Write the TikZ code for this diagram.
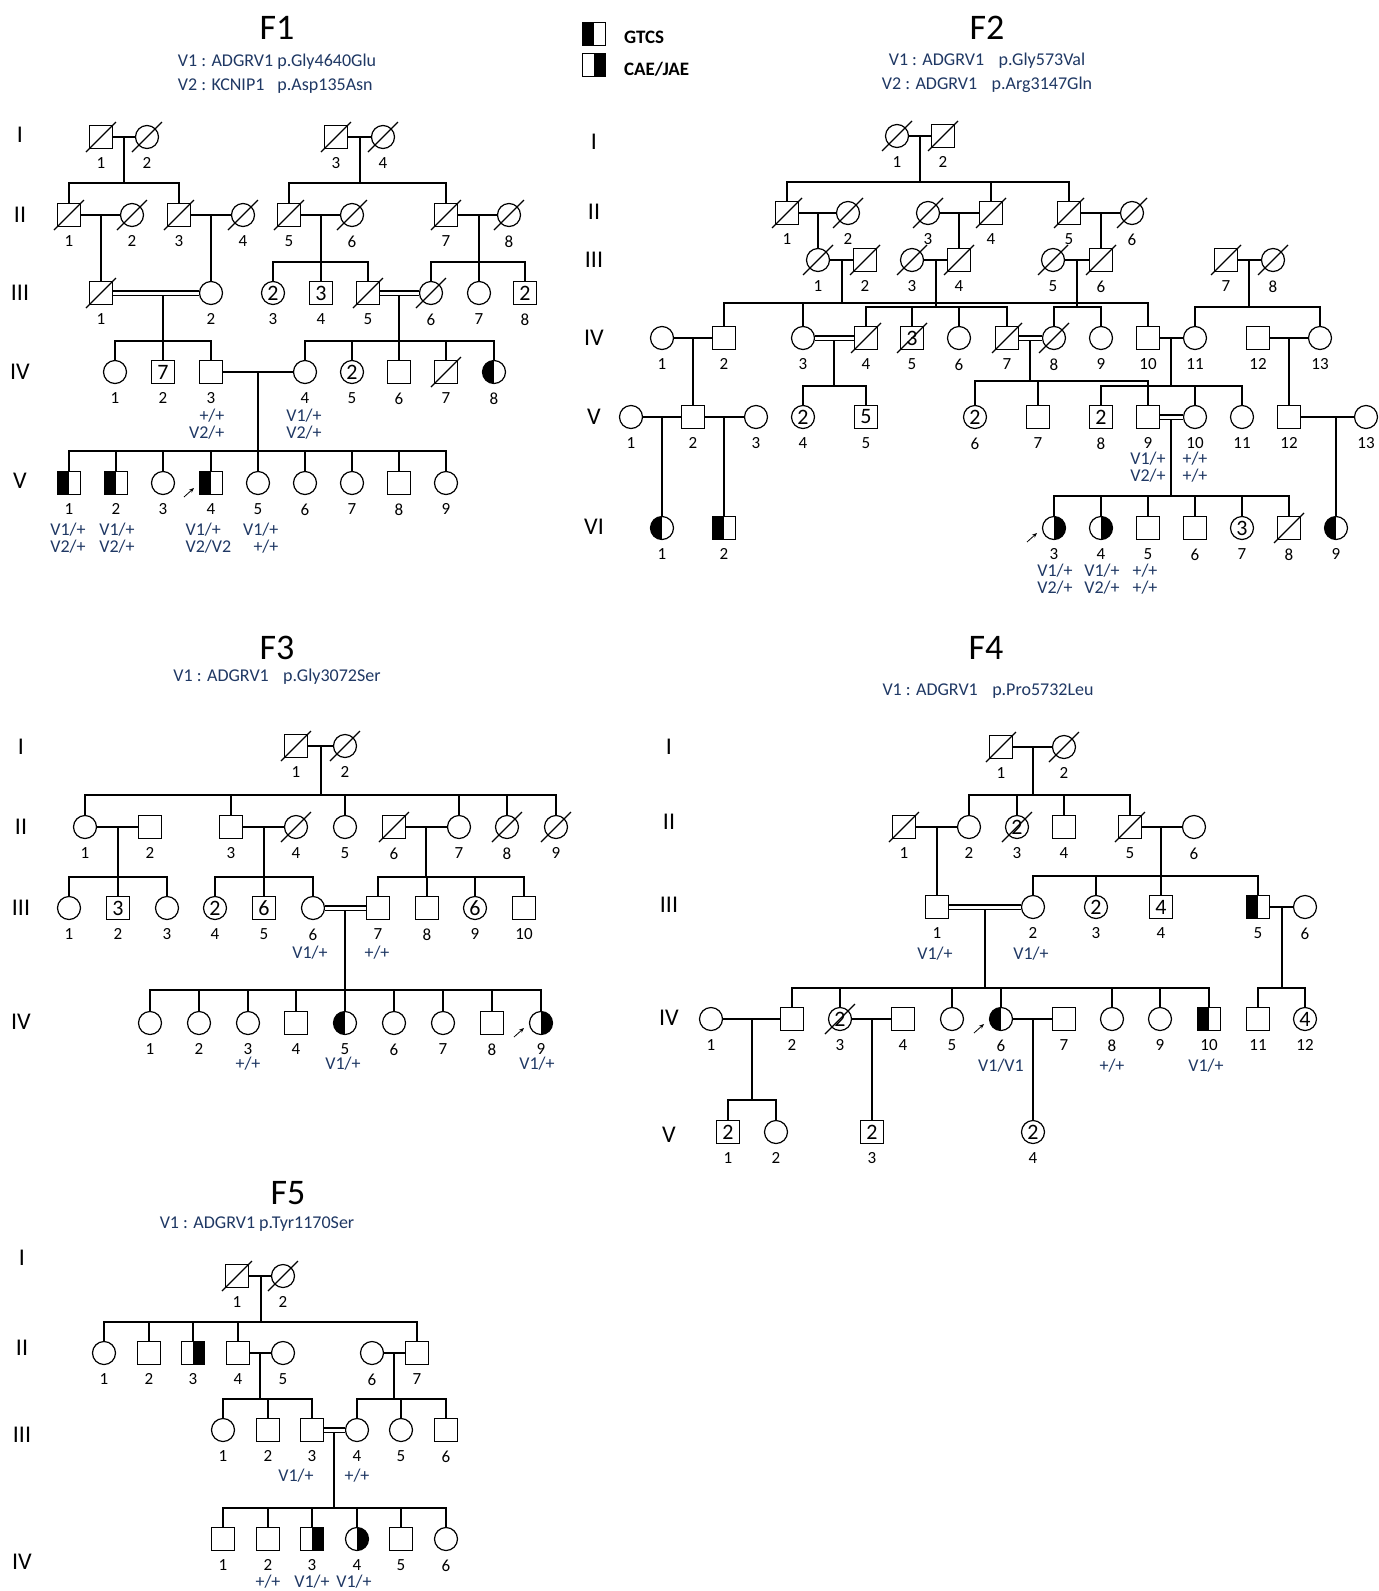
\documentclass[tikz,border=0pt]{standalone}
\usepackage{fontspec}
\setmainfont{Carlito}
\usetikzlibrary{arrows.meta, positioning}
\definecolor{varblue}{RGB}{31,56,100}

\tikzset{
  male/.style={draw, rectangle, minimum size=23pt, inner sep=0pt, font=\fontsize{22}{22}\selectfont},
  female/.style={draw, circle, minimum size=23pt, inner sep=0pt, font=\fontsize{22}{22}\selectfont},
  gtcs/.style={path picture={\fill[black] (path picture bounding box.south west) rectangle (path picture bounding box.north);}},
  cae/.style={path picture={\fill[black] (path picture bounding box.south) rectangle (path picture bounding box.north east);}},
  gen/.style={font=\fontsize{24}{24}\selectfont},
  geno/.style={text=varblue, align=center, inner sep=0pt, font=\fontsize{18}{16.5}\selectfont},
  famtitle/.style={font=\fontsize{36}{36}\selectfont},
  variant/.style={text=varblue, align=center, font=\fontsize{18}{24}\selectfont},
  legtext/.style={font=\bfseries\fontsize{19}{19}\selectfont},
  cons/.style={double, double distance=3pt},
  proband/.style={-{Stealth[length=5pt,width=4pt]}, line width=0.8pt},
}

\begin{document}
\begin{tikzpicture}[x=1pt, y=-1pt, line width=1.2pt, label distance=8pt,
  every label/.style={font=\fontsize{17}{17}\selectfont, inner sep=0pt}]
\useasboundingbox (0,0) rectangle (1379,1591);
\fill[white] (0,0) rectangle (1379,1591);

% legend
\node[male, gtcs] (lgtcs) at (594,34) {};
\node[male, cae] (lcae) at (594,65) {};
\node[legtext, right=14pt of lgtcs, yshift=-3pt] (lgtcstxt) {GTCS};
\node[legtext, right=14pt of lcae, yshift=-4pt] (lcaetxt) {CAE/JAE};

% ---------------- F1 ----------------
\node[famtitle] (f1t) at (277,28) {F1};
\node[variant] (f1var) at (277,74) {\begin{tabular}{@{}l@{ }l@{}}V1 : ADGRV1 & p.Gly4640Glu\\V2 : KCNIP1 & p.Asp135Asn\end{tabular}};
\foreach \g/\y in {I/135, II/215, III/293, IV/372, V/481}
  \node[gen] (f1g\g) at (20,\y) {\g};

\node[male, label={below:1}] (f1i1) at (101,137) {};
\node[female, label={below:2}] (f1i2) at (147,137) {};
\node[male, label={below:3}] (f1i3) at (336,137) {};
\node[female, label={below:4}] (f1i4) at (383,137) {};

\node[male, label={below:1}] (f1ii1) at (69,215) {};
\node[female, label={below:2}] (f1ii2) at (132,215) {};
\node[male, label={below:3}] (f1ii3) at (179,215) {};
\node[female, label={below:4}] (f1ii4) at (243,215) {};
\node[male, label={below:5}] (f1ii5) at (289,215) {};
\node[female, label={below:6}] (f1ii6) at (352,215) {};
\node[male, label={below:7}] (f1ii7) at (446,215) {};
\node[female, label={below:8}] (f1ii8) at (509,215) {};

\node[male, label={below:1}] (f1iii1) at (101,293) {};
\node[female, label={below:2}] (f1iii2) at (211,293) {};
\node[female, label={below:3}] (f1iii3) at (273,293) {2};
\node[male, label={below:4}] (f1iii4) at (321,293) {3};
\node[male, label={below:5}] (f1iii5) at (368,293) {};
\node[female, label={below:6}] (f1iii6) at (431,293) {};
\node[female, label={below:7}] (f1iii7) at (479,293) {};
\node[male, label={below:8}] (f1iii8) at (525,293) {2};

\node[female, label={below:1}] (f1iv1) at (115,372) {};
\node[male, label={below:2}] (f1iv2) at (163,372) {7};
\node[male, label={below:3}] (f1iv3) at (211,372) {};
\node[female, label={below:4}] (f1iv4) at (305,372) {};
\node[female, label={below:5}] (f1iv5) at (352,372) {2};
\node[male, label={below:6}] (f1iv6) at (399,372) {};
\node[male, label={below:7}] (f1iv7) at (446,372) {};
\node[female, gtcs, label={below:8}] (f1iv8) at (494,372) {};

\node[male, gtcs, label={below:1}] (f1v1) at (69,483) {};
\node[male, gtcs, label={below:2}] (f1v2) at (116,483) {};
\node[female, label={below:3}] (f1v3) at (163,483) {};
\node[male, gtcs, label={below:4}] (f1v4) at (211,483) {};
\node[female, label={below:5}] (f1v5) at (258,483) {};
\node[female, label={below:6}] (f1v6) at (305,483) {};
\node[female, label={below:7}] (f1v7) at (352,483) {};
\node[male, label={below:8}] (f1v8) at (399,483) {};
\node[female, label={below:9}] (f1v9) at (446,483) {};

\coordinate (f1s1) at (124,183);
\coordinate (f1s2) at (360,183);
\coordinate (f1s3) at (321,262);
\coordinate (f1s4) at (479,262);
\coordinate (f1s5) at (163,341);
\coordinate (f1s6) at (399,341);
\coordinate (f1s7) at (258,451);

\draw (f1i1) -- (f1i2);
\draw (f1i3) -- (f1i4);
\draw (f1s1 |- f1i1) -- (f1s1);
\draw (f1s2 |- f1i3) -- (f1s2);
\draw (f1ii1) |- (f1s1) -| (f1ii3);
\draw (f1ii5) |- (f1s2) -| (f1ii7);
\draw (f1ii1) -- (f1ii2);
\draw (f1ii3) -- (f1ii4);
\draw (f1ii5) -- (f1ii6);
\draw (f1ii7) -- (f1ii8);
\draw (f1iii1 |- f1ii1) -- (f1iii1);
\draw (f1iii2 |- f1ii3) -- (f1iii2);
\draw (f1s3 |- f1ii5) -- (f1s3);
\draw (f1s4 |- f1ii7) -- (f1s4);
\draw (f1iii3) |- (f1s3) -| (f1iii5);
\draw (f1iii4) -- (f1iii4 |- f1s3);
\draw (f1iii6) |- (f1s4) -| (f1iii8);
\draw (f1iii7) -- (f1iii7 |- f1s4);
\draw (f1s5 |- f1iii1) -- (f1s5);
\draw (f1s6 |- f1iii5) -- (f1s6);
\draw[cons] (f1iii1) -- (f1iii2);
\draw[cons] (f1iii5) -- (f1iii6);
\draw (f1iv1) |- (f1s5) -| (f1iv3);
\draw (f1iv2) -- (f1iv2 |- f1s5);
\draw (f1iv4) |- (f1s6) -| (f1iv8);
\foreach \n in {f1iv5, f1iv6, f1iv7}
  \draw (\n) -- (\n |- f1s6);
\draw (f1iv3) -- (f1iv4);
\draw (f1s7 |- f1iv3) -- (f1s7);
\draw (f1v1) |- (f1s7) -| (f1v9);
\foreach \n in {f1v2, f1v3, f1v4, f1v5, f1v6, f1v7, f1v8}
  \draw (\n) -- (\n |- f1s7);

\node[geno, anchor=east, align=right] (f1gt1) at (225,424) {+/+\\V2/+};
\node[geno] (f1gt2) at (304,424) {V1/+\\V2/+};
\node[geno] (f1gt3) at (68,538) {V1/+\\V2/+};
\node[geno] (f1gt4) at (117,538) {V1/+\\V2/+};
\node[geno, anchor=west, align=left] (f1gt5) at (185,538) {V1/+\\V2/V2};
\node[geno, anchor=east, align=right] (f1gt6) at (279,538) {V1/+\\+/+};

% ---------------- F2 ----------------
\node[famtitle] (f2t) at (987,28) {F2};
\node[variant] (f2var) at (987,73) {V1 : ADGRV1\hspace{0.8em}p.Gly573Val\\V2 : ADGRV1\hspace{0.8em}p.Arg3147Gln};
\foreach \g/\y in {I/142, II/212, III/260, IV/338, V/417, VI/527}
  \node[gen] (f2g\g) at (594,\y) {\g};

\node[female, label={below:1}] (f2i1) at (897,136) {};
\node[male, label={below:2}] (f2i2) at (943,136) {};

\node[male, label={below:1}] (f2ii1) at (787,213) {};
\node[female, label={below:2}] (f2ii2) at (848,213) {};
\node[female, label={below:3}] (f2ii3) at (928,213) {};
\node[male, label={below:4}] (f2ii4) at (991,213) {};
\node[male, label={below:5}] (f2ii5) at (1069,213) {};
\node[female, label={below:6}] (f2ii6) at (1132,213) {};

\node[female, label={below:1}] (f2iii1) at (818,260) {};
\node[male, label={below:2}] (f2iii2) at (865,260) {};
\node[female, label={below:3}] (f2iii3) at (912,260) {};
\node[male, label={below:4}] (f2iii4) at (959,260) {};
\node[female, label={below:5}] (f2iii5) at (1053,260) {};
\node[male, label={below:6}] (f2iii6) at (1101,260) {};
\node[male, label={below:7}] (f2iii7) at (1226,260) {};
\node[female, label={below:8}] (f2iii8) at (1273,260) {};

\node[female, label={below:1}] (f2iv1) at (662,338) {};
\node[male, label={below:2}] (f2iv2) at (724,338) {};
\node[female, label={below:3}] (f2iv3) at (803,338) {};
\node[male, label={below:4}] (f2iv4) at (866,338) {};
\node[male, label={below:5}] (f2iv5) at (912,338) {3};
\node[female, label={below:6}] (f2iv6) at (959,338) {};
\node[male, label={below:7}] (f2iv7) at (1007,338) {};
\node[female, label={below:8}] (f2iv8) at (1054,338) {};
\node[female, label={below:9}] (f2iv9) at (1101,338) {};
\node[male, label={below:10}] (f2iv10) at (1148,338) {};
\node[female, label={below:11}] (f2iv11) at (1195,338) {};
\node[male, label={below:12}] (f2iv12) at (1258,338) {};
\node[female, label={below:13}] (f2iv13) at (1320,338) {};

\node[female, label={below:1}] (f2v1) at (631,417) {};
\node[male, label={below:2}] (f2v2) at (693,417) {};
\node[female, label={below:3}] (f2v3) at (756,417) {};
\node[female, label={below:4}] (f2v4) at (803,417) {2};
\node[male, label={below:5}] (f2v5) at (866,417) {5};
\node[female, label={below:6}] (f2v6) at (975,417) {2};
\node[male, label={below:7}] (f2v7) at (1038,417) {};
\node[male, label={below:8}] (f2v8) at (1101,417) {2};
\node[male, label={below:9}] (f2v9) at (1148,417) {};
\node[female, label={below:10}] (f2v10) at (1195,417) {};
\node[female, label={below:11}] (f2v11) at (1242,417) {};
\node[male, label={below:12}] (f2v12) at (1289,417) {};
\node[female, label={below:13}] (f2v13) at (1366,417) {};

\node[female, gtcs, label={below:1}] (f2vi1) at (662,528) {};
\node[male, gtcs, label={below:2}] (f2vi2) at (724,528) {};
\node[female, cae, label={below:3}] (f2vi3) at (1054,528) {};
\node[female, cae, label={below:4}] (f2vi4) at (1101,528) {};
\node[male, label={below:5}] (f2vi5) at (1148,528) {};
\node[male, label={below:6}] (f2vi6) at (1195,528) {};
\node[female, label={below:7}] (f2vi7) at (1242,528) {3};
\node[male, label={below:8}] (f2vi8) at (1289,528) {};
\node[female, gtcs, label={below:9}] (f2vi9) at (1336,528) {};

\coordinate (f2s1) at (920,182);
\coordinate (f2s2) at (842,303);
\coordinate (f2s3) at (936,307);
\coordinate (f2s4) at (1077,307);
\coordinate (f2s5) at (1249,307);
\coordinate (f2s6) at (834,386);
\coordinate (f2s7) at (1030,381);
\coordinate (f2s8) at (1171,386);
\coordinate (f2s9) at (1171,496);

\draw (f2i1) -- (f2i2);
\draw (f2s1 |- f2i1) -- (f2s1);
\draw (f2ii1) |- (f2s1) -| (f2ii5);
\draw (f2ii4) -- (f2ii4 |- f2s1);
\draw (f2ii1) -- (f2ii2);
\draw (f2ii3) -- (f2ii4);
\draw (f2ii5) -- (f2ii6);
\draw (f2iii1 |- f2ii1) -- (f2iii1);
\draw (f2iii4 |- f2ii3) -- (f2iii4);
\draw (f2iii6 |- f2ii5) -- (f2iii6);
\draw (f2iii1) -- (f2iii2);
\draw (f2iii3) -- (f2iii4);
\draw (f2iii5) -- (f2iii6);
\draw (f2iii7) -- (f2iii8);
\draw (f2s2 |- f2iii1) -- (f2s2);
\draw (f2s3 |- f2iii3) -- (f2s3);
\draw (f2s4 |- f2iii5) -- (f2s4);
\draw (f2s5 |- f2iii7) -- (f2s5);
\draw (f2iv2) |- (f2s2) -| (f2iv10);
\draw (f2iv3) -- (f2iv3 |- f2s2);
\draw (f2iv4) |- (f2s3) -| (f2iv7);
\foreach \n in {f2iv5, f2iv6}
  \draw (\n) -- (\n |- f2s3);
\draw (f2iv8) |- (f2s4) -| (f2iv9);
\draw (f2iv11) |- (f2s5) -| (f2iv13);
\draw (f2iv1) -- (f2iv2);
\draw (f2v2 |- f2iv1) -- (f2v2);
\draw (f2s6 |- f2iv3) -- (f2s6);
\draw[cons] (f2iv3) -- (f2iv4);
\draw (f2s7 |- f2iv7) -- (f2s7);
\draw[cons] (f2iv7) -- (f2iv8);
\draw (f2iv10) -- (f2iv11);
\draw (f2s8 |- f2iv10) -- (f2s8);
\draw (f2iv12) -- (f2iv13);
\draw (f2v12 |- f2iv12) -- (f2v12);
\draw (f2v4) |- (f2s6) -| (f2v5);
\draw (f2v6) |- (f2s7) -| (f2v9);
\draw (f2v7) -- (f2v7 |- f2s7);
\draw (f2v8) |- (f2s8) -| (f2v11);
\draw (f2v10) -- (f2v10 |- f2s8);
\draw (f2v1) -- (f2v2);
\draw (f2v2) -- (f2v3);
\draw (f2vi1 |- f2v1) -- (f2vi1);
\draw (f2vi2 |- f2v2) -- (f2vi2);
\draw (f2s9 |- f2v9) -- (f2s9);
\draw[cons] (f2v9) -- (f2v10);
\draw (f2v12) -- (f2v13);
\draw (f2vi9 |- f2v12) -- (f2vi9);
\draw (f2vi3) |- (f2s9) -| (f2vi8);
\foreach \n in {f2vi4, f2vi5, f2vi6, f2vi7}
  \draw (\n) -- (\n |- f2s9);

\node[geno] (f2gt1) at (1148,467) {V1/+\\V2/+};
\node[geno] (f2gt2) at (1195,467) {+/+\\+/+};
\node[geno] (f2gt3) at (1055,579) {V1/+\\V2/+};
\node[geno] (f2gt4) at (1102,579) {V1/+\\V2/+};
\node[geno] (f2gt5) at (1145,579) {+/+\\+/+};

% ---------------- F3 ----------------
\node[famtitle] (f3t) at (277,648) {F3};
\node[variant] (f3var) at (277,677) {V1 : ADGRV1\hspace{0.8em}p.Gly3072Ser};
\foreach \g/\y in {I/747, II/827, III/908, IV/1022}
  \node[gen] (f3g\g) at (21,\y) {\g};

\node[male, label={below:1}] (f3i1) at (296,746) {};
\node[female, label={below:2}] (f3i2) at (345,746) {};

\node[female, label={below:1}] (f3ii1) at (85,827) {};
\node[male, label={below:2}] (f3ii2) at (150,827) {};
\node[male, label={below:3}] (f3ii3) at (231,827) {};
\node[female, label={below:4}] (f3ii4) at (296,827) {};
\node[female, label={below:5}] (f3ii5) at (345,827) {};
\node[male, label={below:6}] (f3ii6) at (394,827) {};
\node[female, label={below:7}] (f3ii7) at (459,827) {};
\node[female, label={below:8}] (f3ii8) at (507,827) {};
\node[female, label={below:9}] (f3ii9) at (556,827) {};

\node[female, label={below:1}] (f3iii1) at (69,908) {};
\node[male, label={below:2}] (f3iii2) at (118,908) {3};
\node[female, label={below:3}] (f3iii3) at (167,908) {};
\node[female, label={below:4}] (f3iii4) at (215,908) {2};
\node[male, label={below:5}] (f3iii5) at (264,908) {6};
\node[female, label={below:6}] (f3iii6) at (313,908) {};
\node[male, label={below:7}] (f3iii7) at (378,908) {};
\node[male, label={below:8}] (f3iii8) at (427,908) {};
\node[female, label={below:9}] (f3iii9) at (475,908) {6};
\node[male, label={below:10}] (f3iii10) at (524,908) {};

\node[female, label={below:1}] (f3iv1) at (150,1023) {};
\node[female, label={below:2}] (f3iv2) at (199,1023) {};
\node[female, label={below:3}] (f3iv3) at (248,1023) {};
\node[male, label={below:4}] (f3iv4) at (296,1023) {};
\node[female, gtcs, label={below:5}] (f3iv5) at (345,1023) {};
\node[female, label={below:6}] (f3iv6) at (394,1023) {};
\node[female, label={below:7}] (f3iv7) at (443,1023) {};
\node[male, label={below:8}] (f3iv8) at (492,1023) {};
\node[female, cae, label={below:9}] (f3iv9) at (541,1023) {};

\coordinate (f3s1) at (321,795);
\coordinate (f3s2) at (118,877);
\coordinate (f3s3) at (264,877);
\coordinate (f3s4) at (426,877);
\coordinate (f3s5) at (345,990);

\draw (f3i1) -- (f3i2);
\draw (f3s1 |- f3i1) -- (f3s1);
\draw (f3ii1) |- (f3s1) -| (f3ii9);
\foreach \n in {f3ii3, f3ii5, f3ii7, f3ii8}
  \draw (\n) -- (\n |- f3s1);
\draw (f3ii1) -- (f3ii2);
\draw (f3ii3) -- (f3ii4);
\draw (f3ii6) -- (f3ii7);
\draw (f3s2 |- f3ii1) -- (f3s2);
\draw (f3s3 |- f3ii3) -- (f3s3);
\draw (f3s4 |- f3ii6) -- (f3s4);
\draw (f3iii1) |- (f3s2) -| (f3iii3);
\draw (f3iii2) -- (f3iii2 |- f3s2);
\draw (f3iii4) |- (f3s3) -| (f3iii6);
\draw (f3iii5) -- (f3iii5 |- f3s3);
\draw (f3iii7) |- (f3s4) -| (f3iii10);
\foreach \n in {f3iii8, f3iii9}
  \draw (\n) -- (\n |- f3s4);
\draw (f3s5 |- f3iii6) -- (f3s5);
\draw[cons] (f3iii6) -- (f3iii7);
\draw (f3iv1) |- (f3s5) -| (f3iv9);
\foreach \n in {f3iv2, f3iv3, f3iv4, f3iv5, f3iv6, f3iv7, f3iv8}
  \draw (\n) -- (\n |- f3s5);

\node[geno] (f3gt1) at (310,953) {V1/+};
\node[geno] (f3gt2) at (377,953) {+/+};
\node[geno] (f3gt3) at (248,1064) {+/+};
\node[geno] (f3gt4) at (343,1064) {V1/+};
\node[geno] (f3gt5) at (537,1064) {V1/+};

% ---------------- F4 ----------------
\node[famtitle] (f4t) at (986,648) {F4};
\node[variant] (f4var) at (988,691) {V1 : ADGRV1\hspace{0.8em}p.Pro5732Leu};
\foreach \g/\y in {I/747, II/822, III/905, IV/1018, V/1135}
  \node[gen] (f4g\g) at (669,\y) {\g};

\node[male, label={below:1}] (f4i1) at (1001,747) {};
\node[female, label={below:2}] (f4i2) at (1064,747) {};

\node[male, label={below:1}] (f4ii1) at (904,827) {};
\node[female, label={below:2}] (f4ii2) at (969,827) {};
\node[female, label={below:3}] (f4ii3) at (1017,827) {2};
\node[male, label={below:4}] (f4ii4) at (1064,827) {};
\node[male, label={below:5}] (f4ii5) at (1130,827) {};
\node[female, label={below:6}] (f4ii6) at (1194,827) {};

\node[male, label={below:1}] (f4iii1) at (937,907) {};
\node[female, label={below:2}] (f4iii2) at (1033,907) {};
\node[female, label={below:3}] (f4iii3) at (1096,907) {2};
\node[male, label={below:4}] (f4iii4) at (1161,907) {4};
\node[male, gtcs, label={below:5}] (f4iii5) at (1258,907) {};
\node[female, label={below:6}] (f4iii6) at (1305,907) {};

\node[female, label={below:1}] (f4iv1) at (711,1019) {};
\node[male, label={below:2}] (f4iv2) at (792,1019) {};
\node[female, label={below:3}] (f4iv3) at (840,1019) {2};
\node[male, label={below:4}] (f4iv4) at (903,1019) {};
\node[female, label={below:5}] (f4iv5) at (952,1019) {};
\node[female, gtcs, label={below:6}] (f4iv6) at (1001,1019) {};
\node[male, label={below:7}] (f4iv7) at (1064,1019) {};
\node[female, label={below:8}] (f4iv8) at (1112,1019) {};
\node[female, label={below:9}] (f4iv9) at (1160,1019) {};
\node[male, gtcs, label={below:10}] (f4iv10) at (1209,1019) {};
\node[male, label={below:11}] (f4iv11) at (1258,1019) {};
\node[female, label={below:12}] (f4iv12) at (1305,1019) {4};

\node[male, label={below:1}] (f4v1) at (728,1132) {2};
\node[female, label={below:2}] (f4v2) at (776,1132) {};
\node[male, label={below:3}] (f4v3) at (872,1132) {2};
\node[female, label={below:4}] (f4v4) at (1033,1132) {2};

\coordinate (f4s1) at (1033,795);
\coordinate (f4s2) at (1161,876);
\coordinate (f4s3) at (985,988);
\coordinate (f4s4) at (1282,988);
\coordinate (f4s5) at (752,1100);

\draw (f4i1) -- (f4i2);
\draw (f4s1 |- f4i1) -- (f4s1);
\draw (f4ii2) |- (f4s1) -| (f4ii5);
\foreach \n in {f4ii3, f4ii4}
  \draw (\n) -- (\n |- f4s1);
\draw (f4ii1) -- (f4ii2);
\draw (f4iii1 |- f4ii1) -- (f4iii1);
\draw (f4ii5) -- (f4ii6);
\draw (f4s2 |- f4ii5) -- (f4s2);
\draw (f4iii2) |- (f4s2) -| (f4iii5);
\foreach \n in {f4iii3, f4iii4}
  \draw (\n) -- (\n |- f4s2);
\draw (f4s3 |- f4iii1) -- (f4s3);
\draw[cons] (f4iii1) -- (f4iii2);
\draw (f4iii5) -- (f4iii6);
\draw (f4s4 |- f4iii5) -- (f4s4);
\draw (f4iv2) |- (f4s3) -| (f4iv10);
\foreach \n in {f4iv3, f4iv5, f4iv6, f4iv8, f4iv9}
  \draw (\n) -- (\n |- f4s3);
\draw (f4iv11) |- (f4s4) -| (f4iv12);
\draw (f4iv1) -- (f4iv2);
\draw (f4s5 |- f4iv1) -- (f4s5);
\draw (f4iv3) -- (f4iv4);
\draw (f4v3 |- f4iv3) -- (f4v3);
\draw (f4iv6) -- (f4iv7);
\draw (f4v4 |- f4iv6) -- (f4v4);
\draw (f4v1) |- (f4s5) -| (f4v2);

\node[geno] (f4gt1) at (935,954) {V1/+};
\node[geno] (f4gt2) at (1031,954) {V1/+};
\node[geno] (f4gt3) at (1001,1066) {V1/V1};
\node[geno] (f4gt4) at (1112,1066) {+/+};
\node[geno] (f4gt5) at (1206,1066) {V1/+};

% ---------------- F5 ----------------
\node[famtitle] (f5t) at (288,1193) {F5};
\node[variant] (f5var) at (257,1224) {V1 : ADGRV1 p.Tyr1170Ser};
\foreach \g/\y in {I/1258, II/1348, III/1435, IV/1562}
  \node[gen] (f5g\g) at (22,\y) {\g};

\node[male, label={below:1}] (f5i1) at (237,1276) {};
\node[female, label={below:2}] (f5i2) at (283,1276) {};

\node[female, label={below:1}] (f5ii1) at (104,1353) {};
\node[male, label={below:2}] (f5ii2) at (149,1353) {};
\node[male, cae, label={below:3}] (f5ii3) at (193,1353) {};
\node[male, label={below:4}] (f5ii4) at (238,1353) {};
\node[female, label={below:5}] (f5ii5) at (283,1353) {};
\node[female, label={below:6}] (f5ii6) at (372,1353) {};
\node[male, label={below:7}] (f5ii7) at (417,1353) {};

\node[female, label={below:1}] (f5iii1) at (223,1430) {};
\node[male, label={below:2}] (f5iii2) at (268,1430) {};
\node[male, label={below:3}] (f5iii3) at (312,1430) {};
\node[female, label={below:4}] (f5iii4) at (357,1430) {};
\node[female, label={below:5}] (f5iii5) at (401,1430) {};
\node[male, label={below:6}] (f5iii6) at (446,1430) {};

\node[male, label={below:1}] (f5iv1) at (223,1539) {};
\node[male, label={below:2}] (f5iv2) at (268,1539) {};
\node[male, cae, label={below:3}] (f5iv3) at (312,1539) {};
\node[female, cae, label={below:4}] (f5iv4) at (357,1539) {};
\node[male, label={below:5}] (f5iv5) at (401,1539) {};
\node[female, label={below:6}] (f5iv6) at (446,1539) {};

\coordinate (f5s1) at (261,1322);
\coordinate (f5s2) at (260,1399);
\coordinate (f5s3) at (394,1399);
\coordinate (f5s4) at (334,1508);

\draw (f5i1) -- (f5i2);
\draw (f5s1 |- f5i1) -- (f5s1);
\draw (f5ii1) |- (f5s1) -| (f5ii7);
\foreach \n in {f5ii2, f5ii3, f5ii4}
  \draw (\n) -- (\n |- f5s1);
\draw (f5ii4) -- (f5ii5);
\draw (f5s2 |- f5ii4) -- (f5s2);
\draw (f5ii6) -- (f5ii7);
\draw (f5s3 |- f5ii6) -- (f5s3);
\draw (f5iii1) |- (f5s2) -| (f5iii3);
\draw (f5iii2) -- (f5iii2 |- f5s2);
\draw (f5iii4) |- (f5s3) -| (f5iii6);
\draw (f5iii5) -- (f5iii5 |- f5s3);
\draw (f5s4 |- f5iii3) -- (f5s4);
\draw[cons] (f5iii3) -- (f5iii4);
\draw (f5iv1) |- (f5s4) -| (f5iv6);
\foreach \n in {f5iv2, f5iv3, f5iv4, f5iv5}
  \draw (\n) -- (\n |- f5s4);

\node[geno] (f5gt1) at (296,1476) {V1/+};
\node[geno] (f5gt2) at (357,1476) {+/+};
\node[geno] (f5gt3) at (268,1582) {+/+};
\node[geno] (f5gt4) at (312,1582) {V1/+};
\node[geno] (f5gt5) at (354,1582) {V1/+};

% deceased
\foreach \n in {f1i1, f1i2, f1i3, f1i4, f1ii1, f1ii2, f1ii3, f1ii4, f1ii5, f1ii6, f1ii7, f1ii8,
  f1iii1, f1iii5, f1iii6, f1iv7,
  f2i1, f2i2, f2ii1, f2ii2, f2ii3, f2ii4, f2ii5, f2ii6,
  f2iii1, f2iii2, f2iii3, f2iii4, f2iii5, f2iii6, f2iii7, f2iii8,
  f2iv4, f2iv5, f2iv7, f2iv8, f2vi8,
  f3i1, f3i2, f3ii4, f3ii6, f3ii8, f3ii9,
  f4i1, f4i2, f4ii1, f4ii3, f4ii5, f4iv3,
  f5i1, f5i2}
  \draw ([shift={(-15,15)}]\n.center) -- ([shift={(15,-15)}]\n.center);

% probands
\foreach \n in {f1v4, f2vi3, f3iv9, f4iv6}
  \draw[proband] ([shift={(-27,14)}]\n.center) -- ([shift={(-17,5)}]\n.center);
\end{tikzpicture}
\end{document}
